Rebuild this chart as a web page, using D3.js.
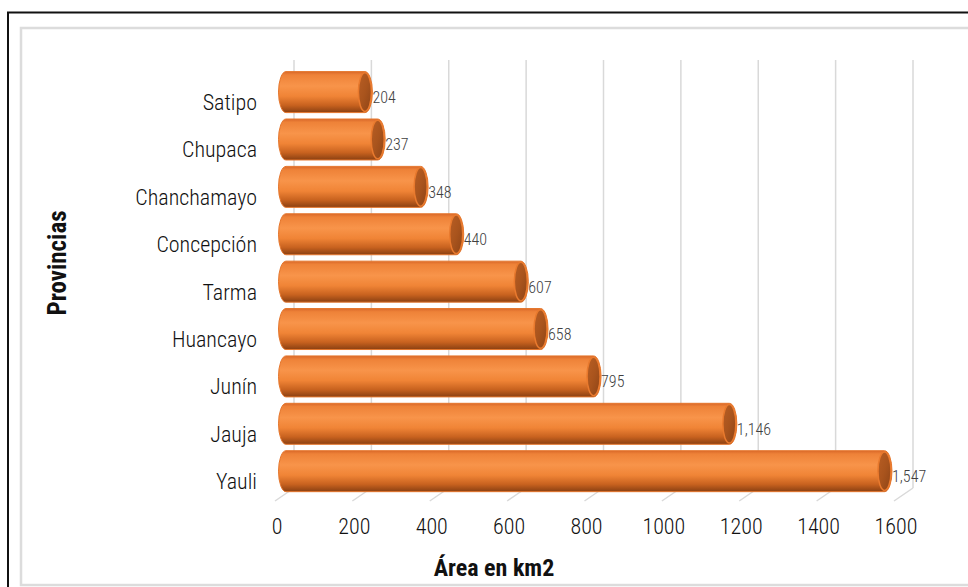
<!DOCTYPE html>
<html><head><meta charset="utf-8">
<script src="https://cdn.jsdelivr.net/npm/d3@7"></script>
<style>body{margin:0;background:#fff}svg{display:block}</style>
</head><body>
<script>
const categories = ["Satipo","Chupaca","Chanchamayo","Concepción","Tarma","Huancayo","Junín","Jauja","Yauli"];
const values = [204,237,348,440,607,658,795,1146,1547];
const xTicks = [0,200,400,600,800,1000,1200,1400,1600];
const xTitle = "Área en km2";
const yTitle = "Provincias";

const W=968,H=587;
const font = "'Liberation Sans Narrow','Roboto Condensed','DejaVu Sans Condensed',sans-serif";
const svg = d3.select("body").append("svg").attr("width",W).attr("height",H);

// borders
svg.append("rect").attr("x",8).attr("y",12.5).attr("width",1000).attr("height",600)
  .attr("fill","none").attr("stroke","#111").attr("stroke-width",2);
svg.append("rect").attr("x",21).attr("y",28).attr("width",1000).attr("height",557)
  .attr("fill","none").attr("stroke","#DCDCDC").attr("stroke-width",2.5);

const x = d3.scaleLinear().domain([0,1600]).range([286,905]);
const y = d3.scaleBand().domain(categories).range([68.3,495]).paddingInner(0.135).paddingOuter(0.07);

const defs = svg.append("defs");
const g1 = defs.append("linearGradient").attr("id","body").attr("x1",0).attr("y1",0).attr("x2",0).attr("y2",1);
[[0,"#D9682A"],[0.08,"#EE8238"],[0.35,"#F8944A"],[0.6,"#F08436"],[0.82,"#C8621F"],[1,"#8A4012"]]
  .forEach(([o,c])=>g1.append("stop").attr("offset",o).attr("stop-color",c));
const g2 = defs.append("linearGradient").attr("id","cap").attr("x1",0).attr("y1",0).attr("x2",1).attr("y2",1);
[[0,"#B85E24"],[0.5,"#A9541D"],[1,"#8E4416"]].forEach(([o,c])=>g2.append("stop").attr("offset",o).attr("stop-color",c));

// gridlines (back wall)
const dx=8;
svg.append("g").selectAll("line").data(xTicks).join("line")
  .attr("x1",d=>x(d)+dx).attr("x2",d=>x(d)+dx).attr("y1",60).attr("y2",488)
  .attr("stroke","#D9D9D9").attr("stroke-width",1.5);
// floor lines
svg.append("g").selectAll("line").data(xTicks).join("line")
  .attr("x1",d=>x(d)+dx).attr("x2",d=>x(d)-11).attr("y1",488).attr("y2",501)
  .attr("stroke","#D9D9D9").attr("stroke-width",1.5);

// tick labels
svg.append("g").selectAll("text").data(xTicks).join("text")
  .attr("x",d=>x(d)-9).attr("y",534).attr("text-anchor","middle")
  .attr("font-family",font).attr("font-size",22).attr("font-weight",300).attr("fill","#111").text(d=>d);

// bars
const rx=7.5;
const bars = svg.append("g").selectAll("g").data(categories).join("g");
bars.append("path").attr("d",(c,i)=>{
  const x0=x(0), x1=x(values[i]), y0=y(c), y1=y(c)+y.bandwidth(), ry=y.bandwidth()/2;
  return `M${x0},${y0}L${x1},${y0}A${rx},${ry} 0 0 1 ${x1},${y1}L${x0},${y1}A${rx},${ry} 0 0 1 ${x0},${y0}Z`;
}).attr("fill","url(#body)").attr("stroke","#E5762C").attr("stroke-width",1);
bars.append("ellipse").attr("cx",(c,i)=>x(values[i])).attr("cy",c=>y(c)+y.bandwidth()/2)
  .attr("rx",rx-1).attr("ry",y.bandwidth()/2-1.2)
  .attr("fill","url(#cap)").attr("stroke","#E97A2E").attr("stroke-width",1.5);

// data labels
bars.append("text").attr("x",(c,i)=>x(values[i])+rx).attr("y",c=>y(c)+y.bandwidth()/2+11)
  .attr("font-family",font).attr("font-size",16).attr("font-weight",300).attr("fill","#404040")
  .text((c,i)=>d3.format(",")(values[i]));

// category labels
svg.append("g").selectAll("text").data(categories).join("text")
  .attr("x",257).attr("y",c=>y(c)+y.bandwidth()/2+18).attr("text-anchor","end")
  .attr("font-family",font).attr("font-size",22).attr("font-weight",300).attr("fill","#111").text(c=>c);

// titles
svg.append("text").attr("x",494).attr("y",576).attr("text-anchor","middle")
  .attr("font-family",font).attr("font-size",24).attr("font-weight","bold").attr("fill","#111").text(xTitle);
svg.append("text").attr("transform","translate(66,263) rotate(-90)").attr("text-anchor","middle")
  .attr("font-family",font).attr("font-size",25).attr("font-weight","bold").attr("fill","#111").text(yTitle);
</script>
</body></html>
